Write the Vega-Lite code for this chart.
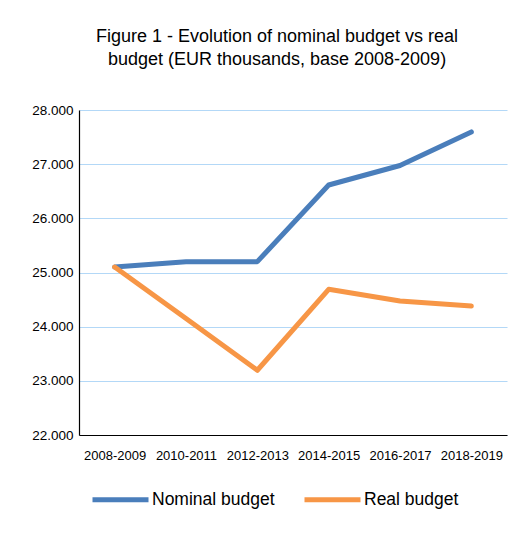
{
  "$schema": "https://vega.github.io/schema/vega-lite/v6.json",
  "autosize": {"type": "none"},
  "width": 428,
  "height": 325,
  "padding": {"left": 79, "top": 110, "right": 23, "bottom": 99},
  "background": "white",
  "config": {
    "locale": {"number": {"decimal": ",", "thousands": ".", "grouping": [3], "currency": ["", " €"]}},
    "view": {"stroke": null},
    "font": "Liberation Sans"
  },
  "title": {
    "text": ["Figure 1 - Evolution of nominal budget vs real", "budget (EUR thousands, base 2008-2009)"],
    "font": "Liberation Sans",
    "fontSize": 18,
    "fontWeight": "normal",
    "color": "#000000",
    "anchor": "middle",
    "dx": -16,
    "offset": 34,
    "lineHeight": 23
  },
  "data": {
    "values": [
      {"period": "2008-2009", "series": "Nominal budget", "value": 25100},
      {"period": "2010-2011", "series": "Nominal budget", "value": 25200},
      {"period": "2012-2013", "series": "Nominal budget", "value": 25200},
      {"period": "2014-2015", "series": "Nominal budget", "value": 26615},
      {"period": "2016-2017", "series": "Nominal budget", "value": 26975},
      {"period": "2018-2019", "series": "Nominal budget", "value": 27595},
      {"period": "2008-2009", "series": "Real budget", "value": 25100},
      {"period": "2010-2011", "series": "Real budget", "value": 24150},
      {"period": "2012-2013", "series": "Real budget", "value": 23195},
      {"period": "2014-2015", "series": "Real budget", "value": 24690},
      {"period": "2016-2017", "series": "Real budget", "value": 24475},
      {"period": "2018-2019", "series": "Real budget", "value": 24380}
    ]
  },
  "mark": {"type": "line", "strokeWidth": 5, "strokeCap": "round", "strokeJoin": "round"},
  "encoding": {
    "x": {
      "field": "period", "type": "ordinal", "title": null,
      "scale": {"type": "point", "padding": 0.5},
      "axis": {
        "labelAngle": 0, "labelFont": "Liberation Sans", "labelFontSize": 13, "labelColor": "#000000",
        "domainColor": "#000000", "domainWidth": 1.2, "ticks": false, "labelPadding": 14, "grid": false
      }
    },
    "y": {
      "field": "value", "type": "quantitative", "title": null,
      "scale": {"domain": [22000, 28000], "nice": false, "zero": false},
      "axis": {
        "values": [22000, 23000, 24000, 25000, 26000, 27000, 28000],
        "format": ",.0f",
        "labelFont": "Liberation Sans", "labelFontSize": 13.5, "labelColor": "#000000",
        "domainColor": "#000000", "domainWidth": 1.2, "ticks": false, "labelPadding": 6,
        "grid": true, "gridColor": "#b3d8f7", "gridWidth": 1.2
      }
    },
    "color": {
      "field": "series", "type": "nominal", "title": null,
      "scale": {"domain": ["Nominal budget", "Real budget"], "range": ["#4a7ebb", "#f79646"]},
      "legend": {
        "orient": "none", "direction": "horizontal",
        "legendX": 11, "legendY": 359,
        "symbolType": "stroke", "symbolSize": 3136, "symbolStrokeWidth": 5,
        "labelFont": "Liberation Sans", "labelFontSize": 17.5, "labelColor": "#000000",
        "labelOffset": 1, "columnPadding": 19
      }
    }
  }
}
